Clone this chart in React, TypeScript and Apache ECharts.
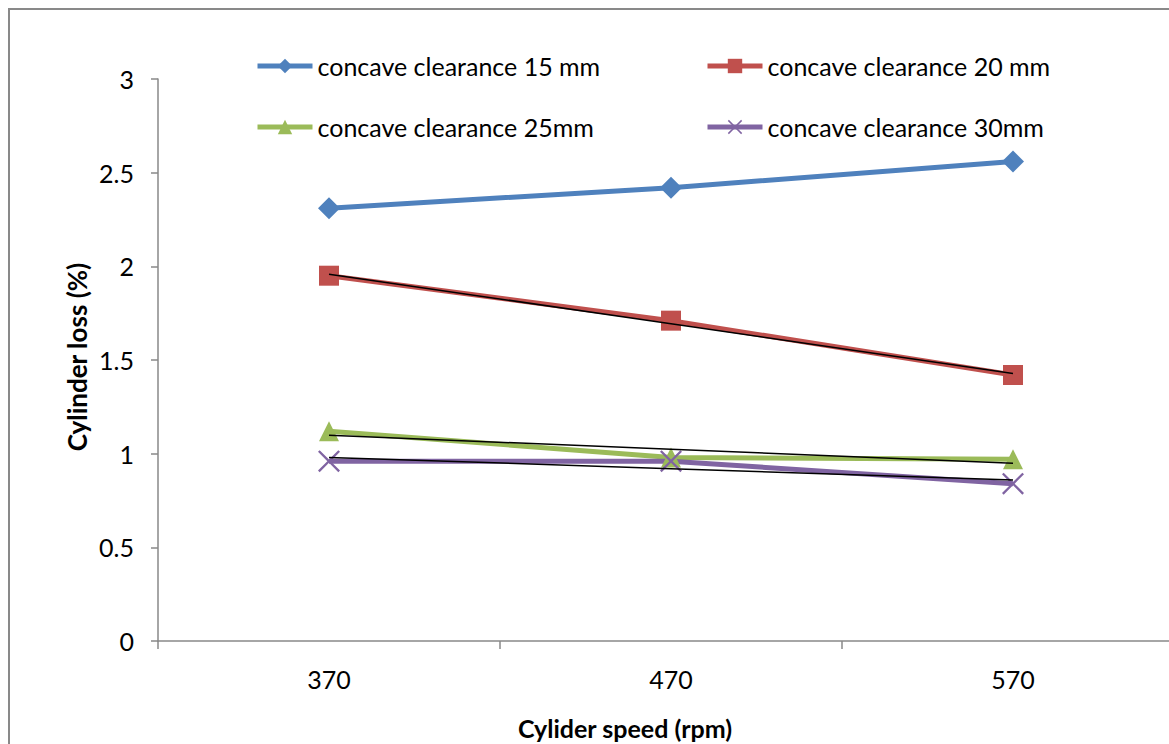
import React, { useEffect, useRef } from "react";
import * as echarts from "echarts";

const categories = ["370", "470", "570"];
const seriesNames = [
  "concave clearance 15 mm",
  "concave clearance 20 mm",
  "concave clearance 25mm",
  "concave clearance 30mm",
];
const clearance15 = [2.31, 2.42, 2.56];
const clearance20 = [1.95, 1.71, 1.42];
const clearance25 = [1.12, 0.98, 0.97];
const clearance30 = [0.96, 0.96, 0.84];
const yTicks = { min: 0, max: 3, interval: 0.5 };

const colors = ["#4F81BD", "#C0504D", "#9BBB59", "#8064A2"];
const FONT = "Lato, 'Open Sans', sans-serif";
const X_SYMBOL =
  "path://M0,1.5 L1.5,0 L10,8.5 L18.5,0 L20,1.5 L11.5,10 L20,18.5 L18.5,20 L10,11.5 L1.5,20 L0,18.5 L8.5,10 Z";

// Excel-style linear trendline (least squares over category index)
function linearTrend(values: number[]): number[] {
  const n = values.length;
  const xs = values.map((_, i) => i + 1);
  const mx = xs.reduce((a, b) => a + b, 0) / n;
  const my = values.reduce((a, b) => a + b, 0) / n;
  let num = 0;
  let den = 0;
  xs.forEach((x, i) => {
    num += (x - mx) * (values[i] - my);
    den += (x - mx) * (x - mx);
  });
  const slope = num / den;
  return xs.map((x) => +(my + slope * (x - mx)).toFixed(4));
}

export default function App() {
  const ref = useRef<HTMLDivElement>(null);
  useEffect(() => {
    document.body.style.margin = "0";
    if (!ref.current) return;
    const chart = echarts.init(ref.current, null, { renderer: "svg" });
    const dataSets = [clearance15, clearance20, clearance25, clearance30];
    const symbols = ["diamond", "rect", "triangle", X_SYMBOL];
    const symbolSizes = [22, 20, 20, 22];
    const mainSeries = dataSets.map((d, i) => ({
      name: seriesNames[i],
      type: "line",
      data: d,
      symbol: symbols[i],
      symbolSize: symbolSizes[i],
      showAllSymbol: true,
      lineStyle: { color: colors[i], width: 5 },
      itemStyle: { color: colors[i] },
      z: 2,
    }));
    const trendSeries = [clearance20, clearance25, clearance30].map((d, i) => ({
      name: "trend" + i,
      type: "line",
      data: linearTrend(d),
      symbol: "none",
      lineStyle: { color: "#000", width: 1.5 },
      z: 5,
      silent: true,
    }));
    const legendPos = [
      { left: 255, top: 52 },
      { left: 705, top: 52 },
      { left: 255, top: 113 },
      { left: 705, top: 113 },
    ];
    chart.setOption({
      animation: false,
      backgroundColor: "#fff",
      legend: seriesNames.map((n, i) => ({
        data: [n],
        left: legendPos[i].left,
        top: legendPos[i].top,
        itemWidth: 55,
        itemHeight: 18,
        padding: 0,
        lineStyle: { width: 5 },
        textStyle: { fontSize: 25, fontFamily: FONT, color: "#000", lineHeight: 28 },
      })),
      grid: { left: 158, top: 79, width: 1026, height: 562, containLabel: false },
      xAxis: {
        type: "category",
        data: categories,
        boundaryGap: true,
        axisLine: { lineStyle: { color: "#898989", width: 1.5 } },
        axisTick: { show: true, length: 8, lineStyle: { color: "#898989", width: 1.5 } },
        axisLabel: { fontSize: 25, fontFamily: FONT, color: "#000", margin: 25 },
        splitLine: { show: false },
      },
      yAxis: {
        type: "value",
        min: yTicks.min,
        max: yTicks.max,
        interval: yTicks.interval,
        axisLine: { show: true, lineStyle: { color: "#898989", width: 1.5 } },
        axisTick: { show: true, length: 7, lineStyle: { color: "#898989", width: 1.5 } },
        axisLabel: { fontSize: 25, fontFamily: FONT, color: "#000", margin: 24 },
        splitLine: { show: false },
      },
      graphic: [
        {
          type: "rect",
          shape: { x: 9, y: 9, width: 3000, height: 3000 },
          style: { fill: "none", stroke: "#898989", lineWidth: 2 },
          silent: true,
          z: -1,
        },
        {
          type: "text",
          x: 625,
          y: 728,
          style: {
            text: "Cylider speed (rpm)",
            fontSize: 25,
            fontWeight: "bold",
            fontFamily: FONT,
            fill: "#000",
            align: "center",
            verticalAlign: "middle",
          },
        },
        {
          type: "text",
          x: 77,
          y: 357,
          rotation: Math.PI / 2,
          style: {
            text: "Cylinder loss (%)",
            fontSize: 26,
            fontWeight: "bold",
            fontFamily: FONT,
            fill: "#000",
            align: "center",
            verticalAlign: "middle",
          },
        },
      ],
      series: [...mainSeries, ...trendSeries],
    });
    return () => chart.dispose();
  }, []);
  return (
    <div style={{ width: 1169, height: 744, overflow: "hidden" }}>
      <div ref={ref} style={{ width: 1200, height: 744 }} />
    </div>
  );
}
